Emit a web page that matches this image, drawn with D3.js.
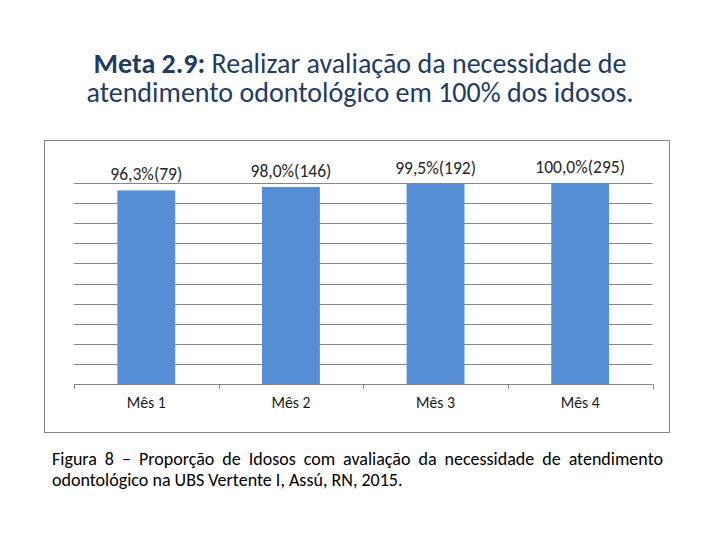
<!DOCTYPE html>
<html>
<head>
<meta charset="utf-8">
<script src="https://cdn.jsdelivr.net/npm/d3@7"></script>
<style>
  html, body { margin: 0; padding: 0; background: #fff; }
  svg { display: block; }
</style>
</head>
<body>
<svg id="chart" width="720" height="540"></svg>
<script>
// ---- data ----
const categories = ["Mês 1", "Mês 2", "Mês 3", "Mês 4"];
const values = [96.3, 98.0, 99.5, 100.0];
const counts = [79, 146, 192, 295];
const yTicks = [0, 10, 20, 30, 40, 50, 60, 70, 80, 90, 100];
const titleBold = "Meta 2.9:";
const titleLine1 = "Realizar avaliação da necessidade de";
const titleLine2 = "atendimento odontológico em 100% dos idosos.";
const captionLine1 = "Figura 8 – Proporção de Idosos com avaliação da necessidade de atendimento";
const captionLine2 = "odontológico na UBS Vertente I, Assú, RN, 2015.";

// ---- layout ----
const FONT = "Carlito, Lato, 'Open Sans', sans-serif";
const svg = d3.select("#chart");
const plot = { left: 74, right: 652.5, top: 183, bottom: 384 };

function measure(text, size, weight) {
  const t = svg.append("text").attr("font-family", FONT).attr("font-size", size)
    .attr("font-weight", weight || "normal").text(text);
  const w = t.node().getComputedTextLength();
  t.remove();
  return w;
}
function fitSize(text, target, weight) {
  return 100 * target / measure(text, 100, weight);
}

// outer border
svg.append("rect").attr("x", 44.5).attr("y", 140.5).attr("width", 625).attr("height", 292)
  .attr("fill", "none").attr("stroke", "#868686").attr("stroke-width", 1);

const x = d3.scaleBand().domain(categories).range([plot.left, plot.right])
  .paddingInner(0.6).paddingOuter(0.3);
const y = d3.scaleLinear().domain([0, 100]).range([plot.bottom, plot.top]);

// gridlines
svg.append("g").selectAll("line").data(yTicks.filter(d => d > 0)).join("line")
  .attr("x1", plot.left).attr("x2", plot.right)
  .attr("y1", d => Math.round(y(d)) + 0.5).attr("y2", d => Math.round(y(d)) + 0.5)
  .attr("stroke", "#868686").attr("stroke-width", 1);

// bars
svg.append("g").selectAll("rect").data(values).join("rect")
  .attr("x", (d, i) => x(categories[i]))
  .attr("width", x.bandwidth())
  .attr("y", d => y(d))
  .attr("height", d => y(0) - y(d))
  .attr("fill", "#558ED5");

// x axis
const step = x.step();
const boundaries = d3.range(categories.length + 1).map(i => plot.left + i * step);
const axisG = svg.append("g");
axisG.append("line").attr("x1", plot.left).attr("x2", plot.right)
  .attr("y1", plot.bottom + 0.5).attr("y2", plot.bottom + 0.5)
  .attr("stroke", "#868686").attr("stroke-width", 1);
axisG.selectAll("line.tick").data(boundaries).join("line").attr("class", "tick")
  .attr("x1", d => Math.round(d) + 0.5).attr("x2", d => Math.round(d) + 0.5)
  .attr("y1", plot.bottom).attr("y2", plot.bottom + 5)
  .attr("stroke", "#868686").attr("stroke-width", 1);

const catSize = fitSize("Mês 1", 39);
axisG.selectAll("text").data(categories).join("text")
  .attr("x", d => x(d) + x.bandwidth() / 2)
  .attr("y", 408)
  .attr("text-anchor", "middle")
  .attr("font-family", FONT).attr("font-size", catSize)
  .attr("fill", "#1a1a1a")
  .text(d => d);

// data labels
const fmt = (v, i) => v.toFixed(1).replace(".", ",") + "%(" + counts[i] + ")";
const lblSize = fitSize(fmt(values[0], 0), 72);
svg.append("g").selectAll("text").data(values).join("text")
  .attr("x", (d, i) => x(categories[i]) + x.bandwidth() / 2)
  .attr("y", d => y(d) - 10.5)
  .attr("text-anchor", "middle")
  .attr("font-family", FONT).attr("font-size", lblSize)
  .attr("fill", "#262626")
  .text((d, i) => fmt(d, i));

// title
const titleColor = "#1F3B63";
const titleSize = fitSize(titleLine2, 547);
const wBold = measure(titleBold, titleSize, "bold");
const wSpace = measure("a a", titleSize) - measure("aa", titleSize);
const wRest = measure(titleLine1, titleSize);
const startX = 360 - (wBold + wSpace + wRest) / 2;
svg.append("text").attr("x", startX).attr("y", 73)
  .attr("font-family", FONT).attr("font-size", titleSize).attr("font-weight", "bold")
  .attr("fill", titleColor).text(titleBold);
svg.append("text").attr("x", startX + wBold + wSpace).attr("y", 73)
  .attr("font-family", FONT).attr("font-size", titleSize)
  .attr("fill", titleColor).text(titleLine1);
svg.append("text").attr("x", 360).attr("y", 102).attr("text-anchor", "middle")
  .attr("font-family", FONT).attr("font-size", titleSize).attr("fill", titleColor)
  .text(titleLine2);

// caption (line 1 justified)
const capSize = fitSize(captionLine2, 351);
const capLeft = 52, capRight = 663;
const words = captionLine1.split(" ");
const widths = words.map(w => measure(w, capSize));
const gap = (capRight - capLeft - d3.sum(widths)) / (words.length - 1);
let cx = capLeft;
const capG = svg.append("g");
words.forEach((w, i) => {
  capG.append("text").attr("x", cx).attr("y", 465)
    .attr("font-family", FONT).attr("font-size", capSize).attr("fill", "#000").text(w);
  cx += widths[i] + gap;
});
capG.append("text").attr("x", capLeft).attr("y", 486)
  .attr("font-family", FONT).attr("font-size", capSize).attr("fill", "#000").text(captionLine2);
</script>
</body>
</html>
